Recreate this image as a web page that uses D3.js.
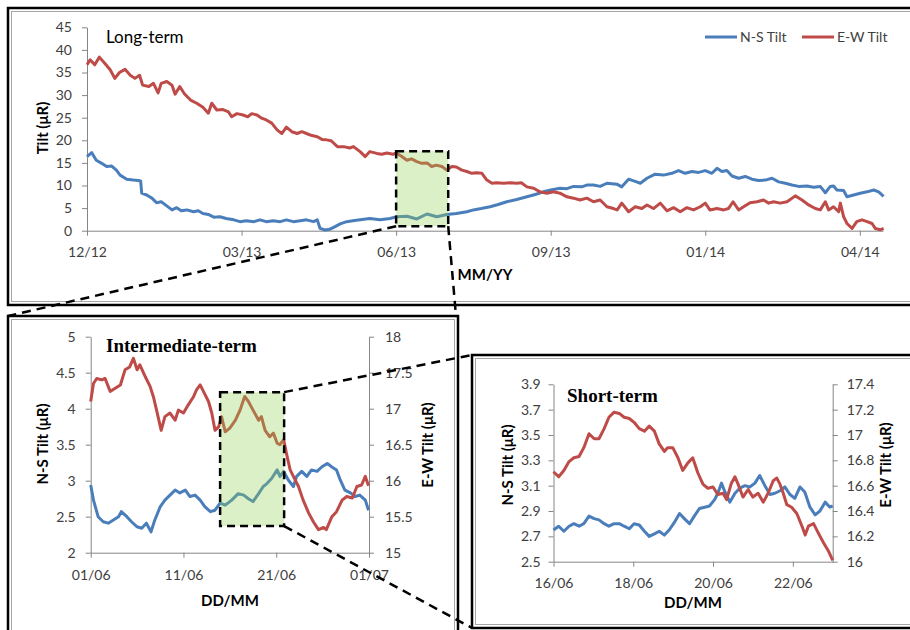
<!DOCTYPE html>
<html>
<head>
<meta charset="utf-8">
<script src="https://cdnjs.cloudflare.com/ajax/libs/d3/7.8.5/d3.min.js"></script>
<style>
  body { margin: 0; background: #fff; }
  svg { display: block; font-family: Lato, "Liberation Sans", sans-serif; }
</style>
</head>
<body>
<svg id="chart" width="910" height="630"></svg>
<script>
///////////////////////////////////////////////////////////////////////////////
// data, [day, value]

var longTickDays = [0, 100, 200, 300, 400, 500];
var longTickLabels = ["12/12", "03/13", "06/13", "09/13", "01/14", "04/14"];

var longNS = [[0,16.4],[3,17.3],[6,15.6],[9.5,14.9],[12.7,14.2],[16,14.3],[19,13.4],[21.4,12.3],[25.7,11.4],[30,11.2],[33,11.1],[34.7,11.0],[35.4,8.3],[38.6,7.9],[42,7.2],[45,6.2],[48,6.4],[51.6,5.5],[55,4.6],[58,5.1],[61,4.4],[64.5,4.6],[69,4.2],[72,4.4],[75,3.8],[78.5,3.6],[82,3.0],[86,3.1],[90,2.7],[95,2.4],[99,2.0],[103,2.2],[108,2.0],[112,2.4],[116,2.0],[120.6,2.2],[125,2.0],[129,2.4],[133.5,2.0],[138,2.2],[142,2.4],[146.5,2.0],[149,2.4],[150.8,0.5],[154,0.15],[157,0.3],[160.5,0.9],[163.8,1.5],[168,2.0],[172,2.2],[176.7,2.4],[183,2.7],[189.6,2.4],[196,2.7],[200.5,3.1],[207,3.2],[213.4,2.6],[220,3.7],[226.3,3.1],[232.8,3.6],[239,3.8],[245.8,4.2],[250,4.6],[255,4.9],[260.8,5.3],[266,5.8],[271.6,6.4],[278,6.9],[284.6,7.5],[290,8.0],[295.3,8.6],[300,9.0],[306,9.4],[310.5,9.3],[314.8,9.8],[320,9.7],[323.4,10.1],[327.7,10.1],[332,9.8],[336.4,10.5],[342.8,10.3],[346,9.7],[350.4,11.4],[354.7,10.9],[358,10.5],[362.3,11.6],[367.6,12.5],[373,12.3],[378.4,12.7],[382.7,13.3],[387,12.7],[391.4,13.1],[395.7,12.9],[400,13.3],[404.3,12.7],[407.6,13.8],[410.8,13.1],[414,13.3],[417.3,12.1],[421.6,11.6],[425.9,12.0],[430.2,11.4],[434.5,11.1],[438.8,11.2],[443.2,11.6],[447.5,10.8],[451.8,10.5],[456.1,10.1],[460.4,9.8],[465.8,9.9],[470.1,9.6],[474.4,9.8],[477.7,8.4],[480.9,9.8],[483,9.9],[485.2,9.0],[489.5,8.9],[491.7,7.5],[496,7.9],[500.3,8.3],[504.7,8.6],[509,9.0],[512.2,8.6],[515.4,7.6]];

var longEW = [[0,36.7],[2,37.8],[5,36.7],[8,38.4],[11.6,37.0],[15,35.6],[18,33.7],[21,35.0],[24.6,35.7],[28,34.4],[31,33.7],[34,34.4],[36,32.2],[40,31.9],[43,32.6],[46,30.5],[48,32.6],[51.6,33.0],[55,32.2],[57,30.2],[60,31.9],[63,30.3],[67,28.9],[71,28.2],[75,27.3],[78.5,26.0],[80.7,28.2],[84,26.7],[88,26.8],[91.5,26.3],[93.6,25.2],[97,25.9],[101,25.6],[104,25.2],[106.6,25.9],[110,25.6],[113,24.9],[116,24.5],[119.5,23.8],[123,22.3],[126,21.5],[129,22.9],[132.5,21.9],[136,21.5],[139,21.9],[142,21.5],[145,21.1],[149,20.8],[152,20.2],[155,20.1],[158,19.9],[162,18.6],[166,18.6],[170,18.3],[172.4,18.6],[176.7,17.5],[180,16.4],[183,17.5],[187.5,17.1],[190.7,16.9],[194,17.2],[198,16.9],[200,17.2],[203.7,16.4],[207,15.6],[210,15.9],[213.4,15.3],[216.6,14.9],[220,15.0],[223,14.2],[226,14.5],[229.6,14.2],[232.8,13.4],[236,14.2],[239,14.1],[242.5,13.4],[245.8,13.1],[249,12.7],[252,12.8],[255.5,12.7],[258.7,11.2],[262,10.5],[265,10.6],[269.5,10.5],[273.8,10.6],[278,10.5],[281,10.6],[284.6,9.7],[289,9.4],[293,8.6],[297.5,8.3],[301.8,8.6],[306,8.3],[310.5,7.5],[314.8,7.2],[319,6.8],[323.4,7.2],[327.7,6.4],[332,6.8],[336.4,5.3],[340.6,4.9],[343,4.6],[346,6.1],[350.4,4.2],[354.7,5.3],[359,4.9],[362.3,5.7],[366.5,4.9],[370.9,6.1],[375.2,4.4],[379.5,5.1],[383.8,4.2],[388.1,5.1],[392.4,4.6],[396.8,5.3],[400,6.1],[403,4.6],[407.6,4.9],[412,4.6],[415,4.9],[418,6.4],[421.6,4.6],[424.8,5.3],[429,6.2],[433.5,6.4],[437.7,6.8],[441,6.1],[444.2,6.4],[448.5,6.1],[452.9,6.4],[458.3,7.7],[462.6,6.8],[466.9,5.7],[471.2,4.9],[474.4,4.6],[477.7,6.4],[479.8,4.6],[483,5.3],[486.3,4.2],[487.4,6.1],[489.5,3.1],[491.7,1.6],[495,0.5],[498,2.0],[501.4,2.4],[504.7,2.0],[507.9,1.6],[510,0.5],[513.3,0.2],[515.4,0.5]];

var midTickDays = [0, 10, 20, 30];
var midTickLabels = ["01/06", "11/06", "21/06", "01/07"];

var midNS = [[0,2.94],[0.3,2.73],[0.8,2.50],[1.35,2.43],[1.9,2.41],[2.4,2.45],[3.0,2.50],[3.3,2.57],[3.9,2.50],[4.4,2.43],[5.0,2.36],[5.5,2.34],[6.0,2.41],[6.5,2.29],[6.9,2.45],[7.5,2.64],[8.0,2.73],[8.55,2.80],[9.1,2.87],[9.6,2.83],[10.2,2.87],[10.7,2.78],[11.25,2.80],[11.8,2.73],[12.3,2.64],[12.9,2.57],[13.4,2.59],[13.95,2.69],[14.5,2.66],[15.2,2.73],[15.9,2.82],[16.5,2.80],[17.0,2.75],[17.5,2.71],[18.1,2.82],[18.6,2.92],[19.0,2.96],[19.5,3.03],[20.1,3.15],[20.4,3.06],[20.8,3.13],[21.3,3.01],[21.85,2.92],[22.2,3.06],[22.75,3.13],[23.3,3.06],[23.8,3.15],[24.4,3.13],[24.9,3.19],[25.5,3.24],[26.0,3.19],[26.5,3.15],[26.9,3.01],[27.4,2.87],[28.0,2.83],[28.5,2.78],[29.0,2.80],[29.6,2.73],[29.95,2.59]];

var midEW = [[0,17.10],[0.3,17.35],[0.65,17.42],[1.2,17.40],[1.55,17.42],[2.1,17.24],[2.6,17.28],[3.2,17.33],[3.7,17.54],[4.2,17.58],[4.6,17.70],[5.0,17.54],[5.3,17.61],[5.9,17.44],[6.4,17.31],[6.75,17.17],[7.1,16.98],[7.6,16.70],[8.0,16.89],[8.55,16.94],[9.1,16.84],[9.45,16.98],[10,16.94],[10.5,17.05],[11.1,17.17],[11.4,17.26],[11.8,17.33],[12.15,17.24],[12.7,17.10],[13.05,16.94],[13.4,16.70],[13.8,16.75],[14.1,16.89],[14.5,16.68],[15.0,16.73],[15.6,16.84],[16.1,16.98],[16.6,17.17],[17.0,17.10],[17.5,16.98],[18.1,16.84],[18.4,16.89],[18.8,16.70],[19.3,16.61],[19.7,16.66],[20.1,16.52],[20.4,16.50],[20.8,16.57],[21.1,16.38],[21.5,16.15],[21.85,16.06],[22.4,15.92],[22.9,15.73],[23.5,15.55],[24.0,15.43],[24.55,15.32],[25.1,15.35],[25.4,15.32],[26.0,15.50],[26.5,15.57],[27.1,15.73],[27.6,15.78],[28.2,15.76],[28.7,15.92],[29.2,15.94],[29.6,16.06],[29.95,15.93]];

var shortTickDays = [0, 2, 4, 6];
var shortTickLabels = ["16/06", "18/06", "20/06", "22/06"];

var shortNS = [[0,2.75],[0.13,2.78],[0.26,2.74],[0.39,2.78],[0.51,2.80],[0.64,2.78],[0.76,2.80],[0.89,2.86],[1.02,2.84],[1.14,2.83],[1.27,2.80],[1.39,2.78],[1.52,2.80],[1.65,2.80],[1.77,2.78],[1.9,2.76],[2.02,2.80],[2.15,2.79],[2.28,2.74],[2.4,2.70],[2.53,2.72],[2.65,2.74],[2.78,2.71],[2.9,2.75],[3.03,2.81],[3.16,2.88],[3.28,2.84],[3.41,2.80],[3.53,2.86],[3.66,2.92],[3.79,2.93],[3.91,2.94],[4.04,2.99],[4.12,3.04],[4.21,3.12],[4.3,3.05],[4.42,2.97],[4.55,3.04],[4.67,3.08],[4.8,3.10],[4.92,3.09],[5.05,3.12],[5.17,3.18],[5.3,3.10],[5.43,3.03],[5.55,3.04],[5.68,3.06],[5.8,3.09],[5.93,3.03],[6.05,3.00],[6.18,3.09],[6.3,3.05],[6.43,2.93],[6.56,2.87],[6.68,2.90],[6.81,2.97],[6.93,2.93],[7.0,2.94]];

var shortEW = [[0,16.71],[0.13,16.67],[0.26,16.72],[0.39,16.79],[0.51,16.82],[0.64,16.83],[0.76,16.90],[0.89,17.01],[1.02,16.97],[1.14,16.97],[1.27,17.05],[1.39,17.14],[1.52,17.18],[1.65,17.17],[1.77,17.14],[1.9,17.13],[2.02,17.10],[2.15,17.05],[2.28,17.03],[2.4,17.07],[2.53,17.03],[2.65,16.93],[2.78,16.87],[2.86,16.90],[2.99,16.90],[3.12,16.82],[3.24,16.72],[3.37,16.78],[3.49,16.82],[3.62,16.70],[3.75,16.61],[3.87,16.58],[4.0,16.59],[4.12,16.53],[4.25,16.54],[4.34,16.49],[4.46,16.62],[4.55,16.67],[4.63,16.61],[4.75,16.51],[4.88,16.57],[5.0,16.51],[5.13,16.54],[5.26,16.47],[5.38,16.54],[5.51,16.64],[5.6,16.66],[5.68,16.61],[5.76,16.54],[5.85,16.45],[5.97,16.43],[6.1,16.38],[6.23,16.28],[6.31,16.21],[6.39,16.28],[6.52,16.30],[6.65,16.22],[6.77,16.15],[6.9,16.08],[7.0,16.01]];

// zoomed windows, in data units
var longBox = {d0: 200, d1: 233.7, v0: 1.0, v1: 17.6};
var midBox = {d0: 13.95, d1: 20.85, v0: 2.37, v1: 4.23};

///////////////////////////////////////////////////////////////////////////////

var svg = d3.select("#chart");
var blue = "#4a7ebb", red = "#be4b48", axisGray = "#868686", labelGray = "#404040";
var fmt = d3.format("~g");

var drawFrame = function (x0, y0, x1, y1) {
  svg.append("rect")
    .attr("x", x0).attr("y", y0)
    .attr("width", x1 - x0).attr("height", y1 - y0)
    .attr("fill", "#fff").attr("stroke", "#000").attr("stroke-width", 2.5);
  svg.append("rect")
    .attr("x", x0 + 3.5).attr("y", y0 + 3.5)
    .attr("width", x1 - x0 - 7).attr("height", y1 - y0 - 7)
    .attr("fill", "none").attr("stroke", "#a6a6a6").attr("stroke-width", 1);
};

var styleAxis = function (g) {
  g.attr("font-size", 14).attr("font-family", "Lato, sans-serif");
  g.select(".domain").attr("stroke", axisGray);
  g.selectAll(".tick line").attr("stroke", axisGray);
  g.selectAll(".tick text").attr("fill", labelGray);
};

var addLine = function (g, data, x, y, color) {
  var line = d3.line()
    .x(function (d) { return x(d[0]); })
    .y(function (d) { return y(d[1]); });
  g.append("path")
    .datum(data)
    .attr("d", line)
    .attr("fill", "none")
    .attr("stroke", color)
    .attr("stroke-width", 3)
    .attr("stroke-linejoin", "round");
};

var vTitle = function (text, cx, cy) {
  svg.append("text")
    .attr("transform", "translate(" + cx + "," + cy + ") rotate(-90)")
    .attr("text-anchor", "middle")
    .attr("dy", "0.35em")
    .attr("font-size", 15).attr("font-weight", "bold")
    .text(text);
};

var hTitle = function (text, cx, by) {
  svg.append("text")
    .attr("x", cx).attr("y", by)
    .attr("text-anchor", "middle")
    .attr("font-size", 15).attr("font-weight", "bold")
    .text(text);
};

var serifTitle = function (text, x, y) {
  svg.append("text")
    .attr("x", x).attr("y", y)
    .style("font-family", "'Liberation Serif', 'Times New Roman', serif")
    .attr("font-size", 19).attr("font-weight", "bold")
    .text(text);
};

var drawBox = function (x, y, b) {
  svg.append("rect")
    .attr("x", x(b.d0)).attr("y", y(b.v1))
    .attr("width", x(b.d1) - x(b.d0)).attr("height", y(b.v0) - y(b.v1))
    .attr("fill", "rgba(146,208,80,0.32)")
    .attr("stroke", "#000").attr("stroke-width", 2.5)
    .attr("stroke-dasharray", "8,5");
};

// panel frames
var topFrame = [8, 8, 916, 305];
var midFrame = [8, 316, 458, 642];
var shortFrame = [472, 355, 916, 628];
drawFrame.apply(null, topFrame);
drawFrame.apply(null, midFrame);
drawFrame.apply(null, shortFrame);

///////////////////////////////////////////////////////////////////////////////
// long-term

var xL = d3.scaleLinear().domain([0, 515]).range([87, 883]);
var yL = d3.scaleLinear().domain([0, 45]).range([230.7, 27.3]);

svg.append("g")
  .attr("transform", "translate(0," + yL(0) + ")")
  .call(d3.axisBottom(xL).tickValues(longTickDays)
    .tickFormat(function (d, i) { return longTickLabels[i]; })
    .tickSize(5).tickSizeOuter(0).tickPadding(11))
  .call(styleAxis);

svg.append("g")
  .attr("transform", "translate(" + xL(0) + ",0)")
  .call(d3.axisLeft(yL).tickValues(d3.range(0, 46, 5))
    .tickSize(5).tickSizeOuter(0).tickPadding(10))
  .call(styleAxis);

var gL = svg.append("g");
addLine(gL, longNS, xL, yL, blue);
addLine(gL, longEW, xL, yL, red);
drawBox(xL, yL, longBox);

svg.append("text").attr("x", 106).attr("y", 42.5)
  .attr("font-size", 17).text("Long-term");
vTitle("Tilt (\u03bcR)", 43, 128);
hTitle("MM/YY", 485, 280);

// legend
var legend = [["N-S Tilt", blue, 705], ["E-W Tilt", red, 802]];
legend.forEach(function (l) {
  svg.append("line")
    .attr("x1", l[2]).attr("x2", l[2] + 32)
    .attr("y1", 37).attr("y2", 37)
    .attr("stroke", l[1]).attr("stroke-width", 3);
  svg.append("text")
    .attr("x", l[2] + 35).attr("y", 42)
    .attr("font-size", 14).attr("fill", labelGray)
    .text(l[0]);
});

///////////////////////////////////////////////////////////////////////////////
// intermediate-term

var xM = d3.scaleLinear().domain([0, 30]).range([90.7, 369]);
var yMl = d3.scaleLinear().domain([2, 5]).range([552.7, 336.7]);
var yMr = d3.scaleLinear().domain([15, 18]).range([552.7, 336.7]);

svg.append("g")
  .attr("transform", "translate(0," + yMl(2) + ")")
  .call(d3.axisBottom(xM).tickValues(midTickDays)
    .tickFormat(function (d, i) { return midTickLabels[i]; })
    .tickSize(5).tickSizeOuter(0).tickPadding(12))
  .call(styleAxis);

svg.append("g")
  .attr("transform", "translate(" + xM(0) + ",0)")
  .call(d3.axisLeft(yMl).tickValues(d3.range(2, 5.01, 0.5)).tickFormat(fmt)
    .tickSize(5).tickSizeOuter(0).tickPadding(10))
  .call(styleAxis);

svg.append("g")
  .attr("transform", "translate(" + xM(30) + ",0)")
  .call(d3.axisRight(yMr).tickValues(d3.range(15, 18.01, 0.5)).tickFormat(fmt)
    .tickSize(5).tickSizeOuter(0).tickPadding(11))
  .call(styleAxis);

var gM = svg.append("g");
addLine(gM, midNS, xM, yMl, blue);
addLine(gM, midEW, xM, yMr, red);
drawBox(xM, yMl, midBox);

serifTitle("Intermediate-term", 106, 351.5);
vTitle("N-S Tilt (\u03bcR)", 43, 444);
vTitle("E-W Tilt (\u03bcR)", 428, 445);
hTitle("DD/MM", 230, 606);

///////////////////////////////////////////////////////////////////////////////
// short-term

var xS = d3.scaleLinear().domain([0, 7]).range([553.5, 832.7]);
var ySl = d3.scaleLinear().domain([2.5, 3.9]).range([561.7, 384.3]);
var ySr = d3.scaleLinear().domain([16, 17.4]).range([561.7, 384.3]);

svg.append("g")
  .attr("transform", "translate(0," + ySl(2.5) + ")")
  .call(d3.axisBottom(xS).tickValues(shortTickDays)
    .tickFormat(function (d, i) { return shortTickLabels[i]; })
    .tickSize(5).tickSizeOuter(0).tickPadding(11))
  .call(styleAxis);

svg.append("g")
  .attr("transform", "translate(" + xS(0) + ",0)")
  .call(d3.axisLeft(ySl).tickValues(d3.range(2.5, 3.95, 0.2)).tickFormat(fmt)
    .tickSize(5).tickSizeOuter(0).tickPadding(8))
  .call(styleAxis);

svg.append("g")
  .attr("transform", "translate(" + xS(7) + ",0)")
  .call(d3.axisRight(ySr).tickValues(d3.range(16, 17.45, 0.2)).tickFormat(fmt)
    .tickSize(5).tickSizeOuter(0).tickPadding(9))
  .call(styleAxis);

var gS = svg.append("g");
addLine(gS, shortNS, xS, ySl, blue);
addLine(gS, shortEW, xS, ySr, red);

serifTitle("Short-term", 567, 401.5);
vTitle("N-S Tilt (\u03bcR)", 508, 465);
vTitle("E-W Tilt (\u03bcR)", 885.5, 465);
hTitle("DD/MM", 693, 608);

///////////////////////////////////////////////////////////////////////////////
// dashed zoom connectors, drawn last so they cross everything

var connectors = [
  [xL(longBox.d0), yL(longBox.v0), midFrame[0], midFrame[1]],
  [xL(longBox.d1), yL(longBox.v0), midFrame[2] - 2, midFrame[1]],
  [xM(midBox.d1), yMl(midBox.v1), shortFrame[0], shortFrame[1]],
  [xM(midBox.d1), yMl(midBox.v0), shortFrame[0], shortFrame[3]]
];
connectors.forEach(function (c) {
  svg.append("line")
    .attr("x1", c[0]).attr("y1", c[1])
    .attr("x2", c[2]).attr("y2", c[3])
    .attr("stroke", "#000").attr("stroke-width", 2.5)
    .attr("stroke-dasharray", "9,6");
});
</script>
</body>
</html>
